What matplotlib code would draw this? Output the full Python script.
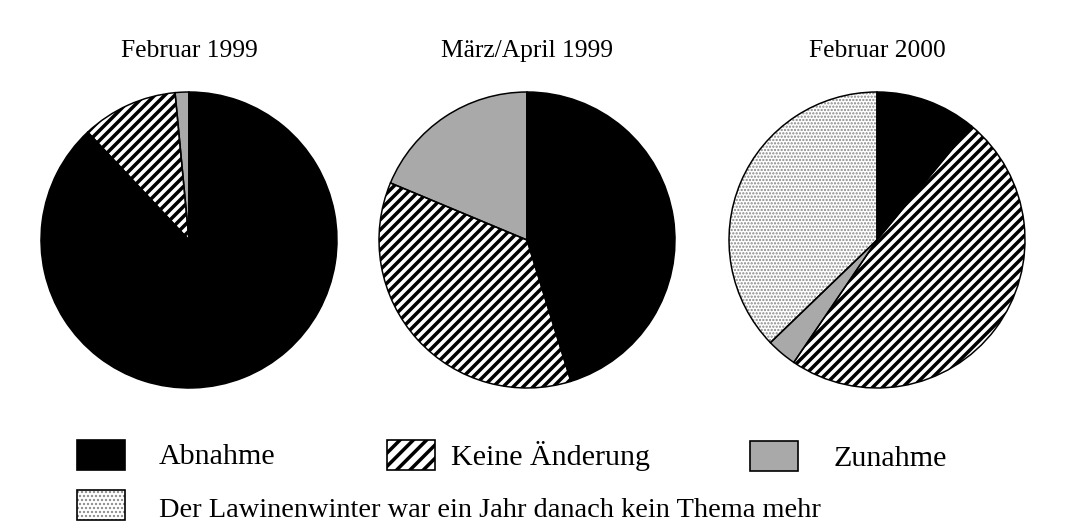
import matplotlib.pyplot as plt
from matplotlib.patches import Rectangle

plt.rcParams['font.family'] = ['Liberation Serif', 'DejaVu Serif']

categories = ["Abnahme", "Keine Änderung", "Zunahme",
              "Der Lawinenwinter war ein Jahr danach kein Thema mehr"]
titles = ["Februar 1999", "März/April 1999", "Februar 2000"]
feb_1999 = [88.0, 10.5, 1.5, 0.0]
mar_apr_1999 = [45.2, 36.1, 18.7, 0.0]
feb_2000 = [11.0, 48.5, 3.3, 37.2]

faces = ["black", "white", "#a9a9a9", "white"]
hatches = [None, "////", None, "......"]
hatch_cols = ["black", "black", "#a9a9a9", "#858585"]
hatch_lw = [1.0, 2.1, 1.0, 0.9]

dpi = 120
fig = plt.figure(figsize=(1081 / dpi, 531 / dpi), dpi=dpi)
ax = fig.add_axes([0, 0, 1, 1])

centers = [(189, 291), (527, 291), (877, 291)]
for vals, (cx, cy), title in zip([feb_1999, mar_apr_1999, feb_2000], centers, titles):
    wedges, _ = ax.pie(vals, startangle=90, counterclock=False, center=(cx, cy),
                       radius=148, colors=faces, normalize=True,
                       wedgeprops=dict(linewidth=0))
    for w, h, hc, lw in zip(wedges, hatches, hatch_cols, hatch_lw):
        if h:
            w.set_hatch(h)
            w.set_edgecolor(hc)
            w.set_hatch_linewidth(lw)
    ax.pie(vals, startangle=90, counterclock=False, center=(cx, cy), radius=148,
           colors=["none"] * 4, normalize=True,
           wedgeprops=dict(linewidth=0.9, edgecolor="black"))
    ax.text(cx, 474, title, ha="center", va="baseline", fontsize=15.3)

# legend
leg_boxes = [(77, 61), (387, 61), (750, 60), (77, 11)]
leg_text = [(159, 67), (451, 66), (834, 65), (159, 14)]
leg_size = [18, 18, 18, 17]
leg_hatch = [None, "///", None, "....."]
for i, cat in enumerate(categories):
    bx, by = leg_boxes[i]
    r = Rectangle((bx, by), 48, 30, facecolor=faces[i], edgecolor=hatch_cols[i],
                  linewidth=0, hatch=leg_hatch[i])
    r.set_hatch_linewidth(hatch_lw[i])
    ax.add_patch(r)
    ax.add_patch(Rectangle((bx, by), 48, 30, facecolor="none", edgecolor="black", linewidth=1.0))
    tx, ty = leg_text[i]
    ax.text(tx, ty, cat, ha="left", va="baseline", fontsize=leg_size[i])

ax.set_xlim(0, 1081)
ax.set_ylim(0, 531)
ax.set_aspect("auto")
ax.axis("off")

fig.savefig("out.png", dpi=dpi)
